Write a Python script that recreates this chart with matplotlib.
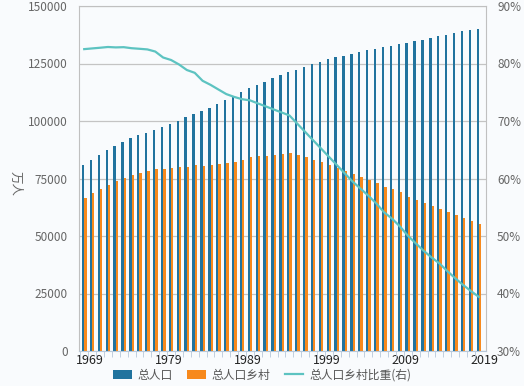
import matplotlib
matplotlib.use("Agg")
import matplotlib.pyplot as plt
from matplotlib.ticker import FixedLocator, FuncFormatter

# ---- data (万人) ----
years = list(range(1969, 2020))
total = [80671, 82992, 85229, 87177, 89211, 90859, 92420, 93717, 94974, 96259,
         97542, 98705, 100072, 101654, 103008, 104357, 105851, 107507, 109300, 111026,
         112704, 114333, 115823, 117171, 118517, 119850, 121121, 122389, 123626, 124761,
         125786, 126743, 127627, 128453, 129227, 129988, 130756, 131448, 132129, 132802,
         133450, 134091, 134735, 135404, 136072, 136782, 137462, 138271, 139008, 139538,
         140005]
rural = [66554, 68568, 70518, 72242, 73866, 75264, 76390, 77376, 78305, 79014,
         79047, 79565, 79901, 80174, 80734, 80340, 80757, 81141, 81626, 82365,
         83164, 84138, 84620, 84996, 85344, 85681, 85947, 85085, 84177, 83153,
         82038, 80837, 79563, 78241, 76851, 75705, 74544, 73160, 71496, 70399,
         68938, 67113, 65656, 64222, 62961, 61866, 60346, 58973, 57661, 56401,
         55162]
rural_share = [82.50, 82.62, 82.74, 82.87, 82.80, 82.84, 82.66, 82.56, 82.45, 82.08,
               81.04, 80.61, 79.84, 78.87, 78.38, 76.99, 76.29, 75.48, 74.68, 74.19,
               73.79, 73.59, 73.06, 72.54, 72.01, 71.49, 70.96, 69.52, 68.09, 66.65,
               65.22, 63.78, 62.34, 60.91, 59.47, 58.24, 57.01, 55.66, 54.11, 53.01,
               51.66, 50.05, 48.73, 47.43, 46.27, 45.23, 43.90, 42.65, 41.48, 40.42,
               39.40]
decade_labels = ["1969", "1979", "1989", "1999", "2009", "2019"]

BLUE, ORANGE, TEAL = "#21739e", "#f7891c", "#5dc3c1"
BG = "#f9fbfd"
GRID = "#c4c4c4"
LABEL = "#666666"

plt.rcParams["font.family"] = ["Noto Sans CJK SC", "DejaVu Sans"]
plt.rcParams["font.size"] = 8.5

fig = plt.figure(figsize=(5.24, 3.86), dpi=100, facecolor=BG)
ax = fig.add_axes([79 / 524, 1 - 351 / 386, 407 / 524, 345 / 386])
ax.set_facecolor(BG)

idx = list(range(len(years)))
bw = 0.3
ax.bar([i - bw / 2 for i in idx], total, width=bw, color=BLUE, label="总人口", zorder=2)
ax.bar([i + bw / 2 for i in idx], rural, width=bw, color=ORANGE, label="总人口乡村", zorder=2)

ax.set_xlim(-0.66, 50.9)
ax.set_ylim(0, 150000)
ax.set_yticks(range(0, 150001, 25000))
ax.yaxis.grid(True, color=GRID, lw=0.9, zorder=0)
ax.set_axisbelow(True)

lab_pos = [years.index(int(y)) + 0.75 for y in decade_labels]
ax.xaxis.set_major_locator(FixedLocator(lab_pos))
ax.set_xticklabels(decade_labels, fontsize=9, color="#222222")
ax.xaxis.set_minor_locator(FixedLocator([i + 0.5 for i in idx[:-1]] + [-0.55]))
ax.tick_params(axis="x", which="major", length=0, pad=2)
ax.tick_params(axis="x", which="minor", length=4, color="#b8c8da")
ax.tick_params(axis="y", length=0, pad=8, colors=LABEL)

for sp in ("left", "top", "right"):
    ax.spines[sp].set_color("#c0c0c0")
ax.spines["bottom"].set_color("#b8c8da")

ax2 = ax.twinx()
ax2.plot(idx, rural_share, color=TEAL, lw=1.6, label="总人口乡村比重(右)", zorder=3)
ax2.set_ylim(30, 90)
ax2.set_yticks(range(30, 91, 10))
ax2.yaxis.set_major_formatter(FuncFormatter(lambda v, p: f"{v:.0f}%"))
ax2.tick_params(axis="y", length=0, pad=8, colors=LABEL)
for sp in ax2.spines.values():
    sp.set_visible(False)

fig.text(15 / 524, 1 - 184 / 386, "万人", rotation=270, ha="center", va="center",
         fontsize=9, color=LABEL)

h1, l1 = ax.get_legend_handles_labels()
h2, l2 = ax2.get_legend_handles_labels()
fig.legend(h1 + h2, l1 + l2, loc="center", bbox_to_anchor=(0.5, 1 - 375 / 386),
           ncol=3, frameon=False, fontsize=8.5, handlelength=1.6, handleheight=0.9,
           columnspacing=1.2, handletextpad=0.5, labelcolor="#555555")

fig.savefig("out.png", dpi=100, facecolor=BG)
